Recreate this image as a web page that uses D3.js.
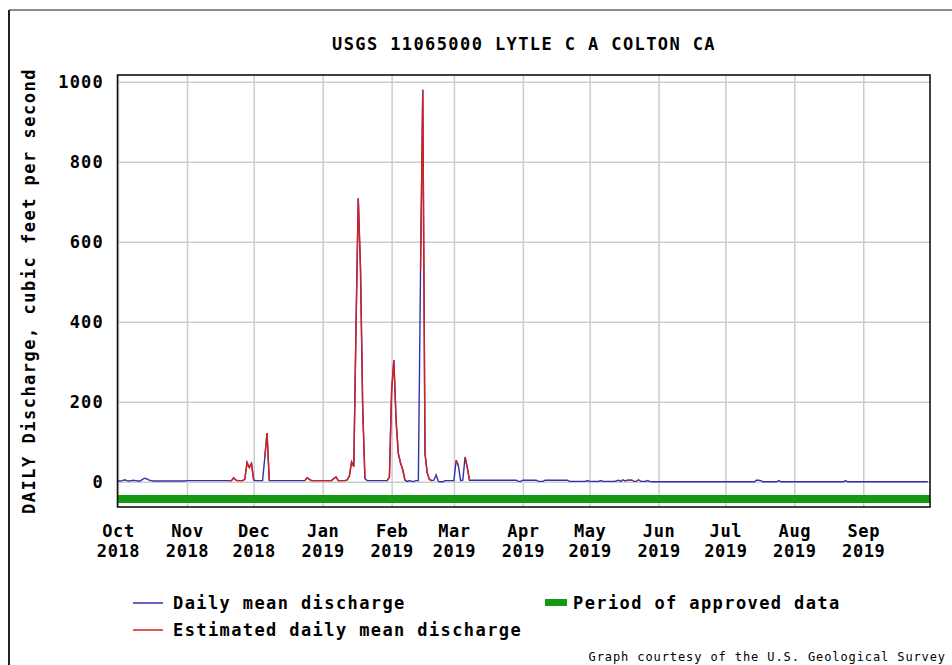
<!DOCTYPE html>
<html>
<head>
<meta charset="utf-8">
<script src="https://cdn.jsdelivr.net/npm/d3@7"></script>
<style>
body { margin: 0; background: #fff; }
text { font-family: "DejaVu Sans Mono", monospace; font-weight: bold; fill: #000; }
</style>
</head>
<body>
<svg id="chart" width="952" height="665"></svg>
<script>
// daily mean discharge (cfs), water year 2019
var octQ = [2,2,3,5,3,2,3,4,3,2,2,6,9,7,4,3,2,2,2,2,2,2,2,2,2,2,2,2,2,2,2];
var novQ = [3,3,3,3,3,3,3,3,3,3,3,3,3,3,3,3,3,3,3,3,3,10,4,3,3,3,6,48,36,46];
var decQ = [4,3,3,3,3,62,122,3,3,3,3,3,3,3,3,3,3,3,3,3,3,3,3,3,10,6,3,3,3,3,3];
var janQ = [3,3,3,3,3,8,12,3,3,3,3,5,14,50,38,392,709,534,184,8,3,3,3,3,3,3,3,3,3,3,12];
var febQ = [229,304,154,71,47,30,4,1,3,1,1,3,3,530,980,71,22,6,3,4,17,1,0,0,3,3,3,3];
var marQ = [3,54,40,3,4,62,36,4,4,4,4,4,4,4,4,4,4,4,4,4,4,4,4,4,4,4,4,4,4,1,1];
var aprQ = [4,4,4,4,4,4,4,1,1,1,4,4,4,4,4,4,4,4,4,4,4,1,1,1,1,1,1,1,1,3];
var mayQ = [1,1,1,1,1,3,1,1,1,1,1,1,2,4,1,5,2,4,4,4,1,1,5,1,1,1,3,1,0,0,0];
var junQ = [0,0,0,0,0,0,0,0,0,0,0,0,0,0,0,0,0,0,0,0,0,0,0,0,0,0,0,0,0,0];
var julQ = [0,0,0,0,0,0,0,0,0,0,0,0,0,0,4,4,3,0,0,0,0,0,0,0,3,0,0,0,0,0,0];
var augQ = [0,0,0,0,0,0,0,0,0,0,0,0,0,0,0,0,0,0,0,0,0,0,0,3,0,0,0,0,0,0,0];
var sepQ = [0,0,0,0,0,0,0,0,0,0,0,0,0,0,0,0,0,0,0,0,0,0,0,0,0,0,0,0,0,0];

// stretches of estimated values (drawn red)
var estimatedSpans = [
  ["2018-11-20", "2018-12-01"],
  ["2018-12-06", "2018-12-08"],
  ["2018-12-24", "2019-01-20"],
  ["2019-01-30", "2019-02-07"],
  ["2019-02-14", "2019-02-19"],
  ["2019-03-02", "2019-03-03"],
  ["2019-03-06", "2019-03-08"],
  ["2019-05-18", "2019-05-20"]
];
var approvedPeriod = ["2018-10-01", "2019-10-01"];
var yTicks = [0, 200, 400, 600, 800, 1000];
var yDomain = [-63, 1017];
var xDomain = ["2018-10-01", "2019-10-01"];

var titleText = "USGS 11065000 LYTLE C A COLTON CA";
var yTitle = "DAILY Discharge, cubic feet per second";
var legendItems = ["Daily mean discharge", "Estimated daily mean discharge", "Period of approved data"];
var creditText = "Graph courtesy of the U.S. Geological Survey";

var parse = d3.timeParse("%Y-%m-%d");
var blue = "#3232aa", red = "#d42020", green = "#129a12";

var margin = { top: 75, right: 22, bottom: 158, left: 118 },
    W = 952, H = 665,
    width = W - margin.left - margin.right,
    height = H - margin.top - margin.bottom;

var svg = d3.select("#chart");

// outer page frame
svg.append("line").attr("x1", 9).attr("y1", 10).attr("x2", 952).attr("y2", 10)
   .attr("stroke", "#666").attr("stroke-width", 1.5);
svg.append("line").attr("x1", 9).attr("y1", 10).attr("x2", 9).attr("y2", 665)
   .attr("stroke", "#222").attr("stroke-width", 2);

//build the daily series
var allQ = [].concat(octQ, novQ, decQ, janQ, febQ, marQ, aprQ, mayQ, junQ, julQ, augQ, sepQ);
var days = d3.timeDay.range(parse(xDomain[0]), parse(xDomain[1]));
var series = days.map(function (d, i) { return { date: d, q: allQ[i] }; });

var x = d3.scaleTime().domain(xDomain.map(parse)).range([0, width]);
var y = d3.scaleLinear().domain(yDomain).range([height, 0]);

var g = svg.append("g").attr("transform", "translate(" + margin.left + "," + margin.top + ")");

var months = d3.timeMonth.range(parse(xDomain[0]), parse(xDomain[1]));

// grid
var xGrid = g.append("g").attr("transform", "translate(0," + height + ")")
  .call(d3.axisBottom(x).tickValues(months).tickSize(-height).tickFormat(""));
var yGrid = g.append("g")
  .call(d3.axisLeft(y).tickValues(yTicks).tickSize(-width).tickFormat(""));
[xGrid, yGrid].forEach(function (a) {
  a.select(".domain").remove();
  a.selectAll("line").attr("stroke", "#cccccc").attr("stroke-width", 1.5);
});

// approved data bar
g.append("rect")
  .attr("x", x(parse(approvedPeriod[0])))
  .attr("width", x(parse(approvedPeriod[1])) - x(parse(approvedPeriod[0])))
  .attr("y", y(-43) - 4).attr("height", 8)
  .attr("fill", green);

var line = d3.line().x(function (d) { return x(d.date); }).y(function (d) { return y(d.q); });

g.append("path").datum(series)
  .attr("fill", "none").attr("stroke", blue).attr("stroke-width", 1.4)
  .attr("stroke-linejoin", "miter").attr("d", line);

estimatedSpans.forEach(function (s) {
  var a = parse(s[0]), b = parse(s[1]);
  var part = series.filter(function (d) { return d.date >= a && d.date <= b; });
  g.append("path").datum(part)
    .attr("fill", "none").attr("stroke", red).attr("stroke-width", 1.4)
    .attr("d", line);
});

// plot frame
g.append("rect").attr("x", -0.5).attr("y", 0).attr("width", width + 0.5).attr("height", height)
  .attr("fill", "none").attr("stroke", "#111").attr("stroke-width", 1.6);

// y axis labels
var yAxis = g.append("g")
  .call(d3.axisLeft(y).tickValues(yTicks).tickSize(0).tickPadding(14).tickFormat(d3.format("d")));
yAxis.select(".domain").remove();
yAxis.selectAll("text")
  .style("font-family", "DejaVu Sans Mono").style("font-weight", "bold")
  .style("font-size", "17px").style("letter-spacing", "1.2px").attr("fill", "#000");

// x axis labels: month + year
var xAxis = g.append("g").attr("transform", "translate(0," + height + ")")
  .call(d3.axisBottom(x).tickValues(months).tickSize(0).tickPadding(0).tickFormat(""));
xAxis.select(".domain").remove();
xAxis.selectAll(".tick text").each(function (d) {
  var t = d3.select(this).attr("y", 0).attr("dy", null)
    .style("font-family", "DejaVu Sans Mono").style("font-weight", "bold")
    .style("font-size", "17px").style("letter-spacing", "0.6px").attr("fill", "#000");
  t.append("tspan").attr("x", 0).attr("y", 30).text(d3.timeFormat("%b")(d));
  t.append("tspan").attr("x", 0).attr("y", 50).text(d3.timeFormat("%Y")(d));
});

// title
svg.append("text").attr("x", 524).attr("y", 50).attr("text-anchor", "middle")
  .style("font-size", "17px").style("letter-spacing", "1.4px").text(titleText);

// y title
svg.append("text")
  .attr("transform", "translate(35," + (margin.top + height / 2) + ") rotate(-90)")
  .attr("text-anchor", "middle")
  .style("font-size", "17px").style("letter-spacing", "1.5px").text(yTitle);

// legend
var leg = svg.append("g");
leg.append("line").attr("x1", 133).attr("x2", 163).attr("y1", 603).attr("y2", 603)
  .attr("stroke", blue).attr("stroke-width", 1.5);
leg.append("text").attr("x", 173).attr("y", 609)
  .style("font-size", "17px").style("letter-spacing", "1.4px").text(legendItems[0]);
leg.append("line").attr("x1", 133).attr("x2", 163).attr("y1", 630).attr("y2", 630)
  .attr("stroke", red).attr("stroke-width", 1.5);
leg.append("text").attr("x", 173).attr("y", 636)
  .style("font-size", "17px").style("letter-spacing", "1.4px").text(legendItems[1]);
leg.append("rect").attr("x", 545).attr("y", 599).attr("width", 22).attr("height", 7)
  .attr("fill", green);
leg.append("text").attr("x", 573).attr("y", 609)
  .style("font-size", "17px").style("letter-spacing", "1.4px").text(legendItems[2]);

// credit
svg.append("text").attr("x", 946).attr("y", 661).attr("text-anchor", "end")
  .style("font-size", "12px").style("font-weight", "normal").style("letter-spacing", "0.9px")
  .text(creditText);
</script>
</body>
</html>
